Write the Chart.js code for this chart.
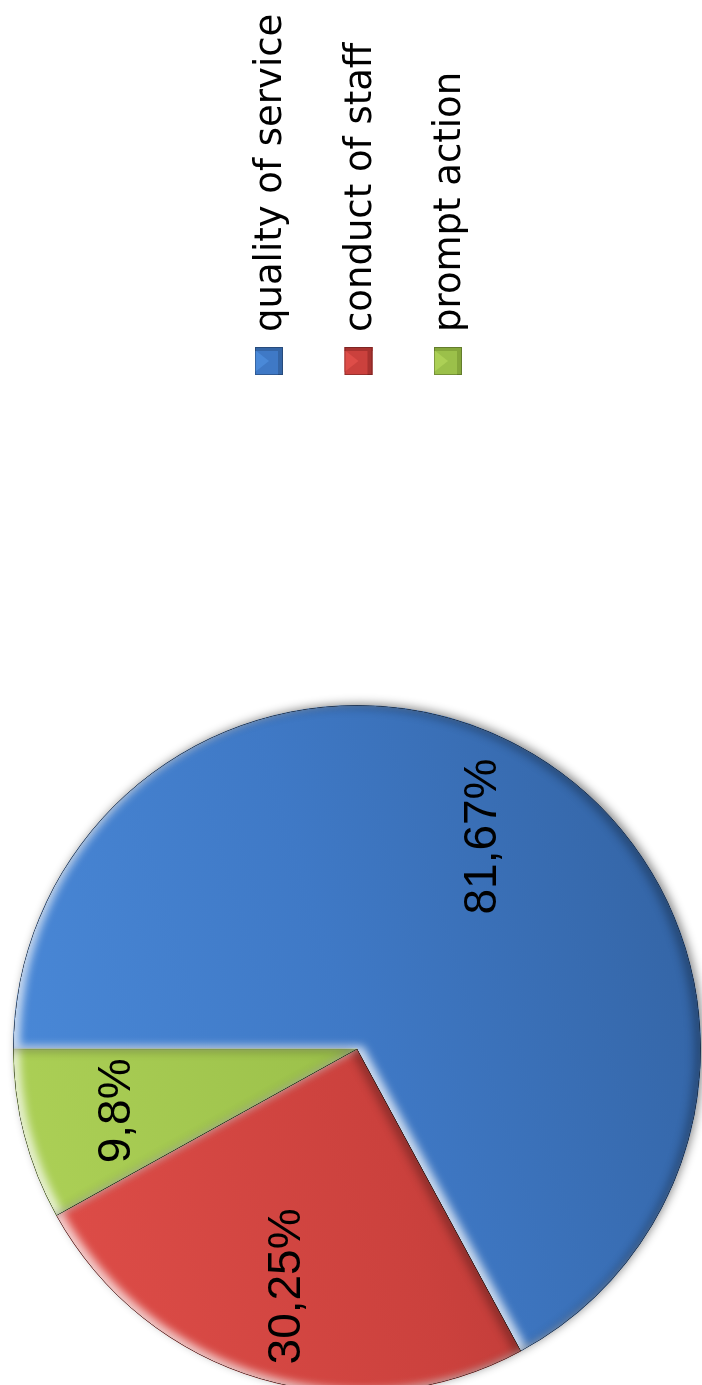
<!DOCTYPE html>
<html>
<head>
<meta charset="utf-8">
<title>Pastel</title>
<script src="https://cdn.jsdelivr.net/npm/chart.js@4.4.1/dist/chart.umd.min.js"></script>
<style>
    html, body { margin: 0; padding: 0; background: #fff; overflow: hidden; width: 702px; height: 1385px; }
    /* la grafica se dibuja acostada y se gira 90 grados */
    #contenedor { position: absolute; left: 0; top: 0; width: 1400px; height: 702px; transform-origin: 0 0; transform: translateY(1400px) rotate(-90deg); }
    canvas { display: block; }
</style>
</head>
<body>
<div id="contenedor"><canvas id="graficapastel" width="1400" height="702"></canvas></div>
<script>
// Datos
const etiquetas = ['quality of service', 'conduct of staff', 'prompt action'];
const valores = [81.67, 30.25, 9.8];

// Colores (claro, base, oscuro) por rebanada
const coloresClaros = ['#4a89d8', '#de4d48', '#acd056'];
const coloresBase = ['#3f79c6', '#cb413d', '#9bc04a'];
const coloresOscuros = ['#3465a6', '#a8322f', '#85a73b'];

function textoPorcentaje(v) {
    return String(v).replace('.', ',') + '%'; // coma decimal
}

function degradado(context) {
    const chart = context.chart;
    const area = chart.chartArea;
    const i = context.dataIndex;
    if (!area) return coloresBase[i];
    const cx = (area.left + area.right) / 2;
    const cy = (area.top + area.bottom) / 2;
    const r = Math.min(area.width, area.height) / 2;
    const g = chart.ctx.createLinearGradient(cx - r * 0.3, cy - r, cx + r * 0.3, cy + r);
    g.addColorStop(0, coloresClaros[i]);
    g.addColorStop(0.5, coloresBase[i]);
    g.addColorStop(1, coloresOscuros[i]);
    return g;
}

// Sombra exterior del pastel
const sombra = {
    id: 'sombra',
    beforeDatasetsDraw(chart) {
        const arc = chart.getDatasetMeta(0).data[0];
        if (!arc) return;
        const p = arc.getProps(['x', 'y', 'outerRadius'], true);
        const ctx = chart.ctx;
        ctx.save();
        ctx.shadowColor = 'rgba(0,0,0,0.45)';
        ctx.shadowBlur = 10;
        ctx.shadowOffsetX = 2;
        ctx.shadowOffsetY = 3;
        ctx.fillStyle = '#fff';
        ctx.beginPath();
        ctx.arc(p.x, p.y, p.outerRadius, 0, Math.PI * 2);
        ctx.fill();
        ctx.restore();
    }
};

// Efecto de bisel dentro de cada rebanada
const bisel = {
    id: 'bisel',
    afterDatasetsDraw(chart) {
        const ctx = chart.ctx;
        chart.getDatasetMeta(0).data.forEach((arc) => {
            const p = arc.getProps(['x', 'y', 'startAngle', 'endAngle', 'outerRadius'], true);
            const trazo = () => {
                ctx.moveTo(p.x, p.y);
                ctx.arc(p.x, p.y, p.outerRadius, p.startAngle, p.endAngle);
                ctx.closePath();
            };
            const capas = [
                { color: 'rgba(255,255,255,0.75)', dx: 3, dy: 6, blur: 9 },
                { color: 'rgba(0,0,0,0.3)', dx: -2, dy: -6, blur: 10 }
            ];
            ctx.save();
            ctx.beginPath();
            trazo();
            ctx.clip();
            capas.forEach((c) => {
                ctx.beginPath();
                ctx.rect(-3000, -3000, 8000, 8000);
                trazo();
                ctx.fillStyle = '#000';
                ctx.shadowColor = c.color;
                ctx.shadowBlur = c.blur;
                ctx.shadowOffsetX = c.dx;
                ctx.shadowOffsetY = c.dy;
                ctx.fill('evenodd');
            });
            ctx.restore();
        });
    }
};

// Porcentajes sobre las rebanadas
const etiquetasPastel = {
    id: 'etiquetasPastel',
    afterDatasetsDraw(chart) {
        const ctx = chart.ctx;
        const datos = chart.data.datasets[0].data;
        ctx.save();
        ctx.font = '46px "Liberation Sans", Arial, sans-serif';
        ctx.fillStyle = '#000';
        ctx.textAlign = 'center';
        ctx.textBaseline = 'middle';
        chart.getDatasetMeta(0).data.forEach((arc, i) => {
            const p = arc.getProps(['x', 'y', 'startAngle', 'endAngle', 'outerRadius'], true);
            const medio = (p.startAngle + p.endAngle) / 2;
            const r = p.outerRadius * 0.72;
            ctx.fillText(textoPorcentaje(datos[i]), p.x + Math.cos(medio) * r, p.y + Math.sin(medio) * r);
        });
        ctx.restore();
    }
};

// Leyenda con cuadritos biselados
const leyenda = {
    id: 'leyenda',
    afterDraw(chart) {
        const ctx = chart.ctx;
        const lado = 28;
        const x0 = 1025;
        ctx.save();
        chart.data.labels.forEach((texto, i) => {
            const cy = 269 + i * 89.5;
            const y0 = cy - lado / 2;
            ctx.fillStyle = coloresBase[i];
            ctx.fillRect(x0, y0, lado, lado);
            // cara clara
            ctx.fillStyle = coloresClaros[i];
            ctx.beginPath();
            ctx.moveTo(x0 + 3, y0);
            ctx.lineTo(x0 + lado - 3, y0);
            ctx.lineTo(x0 + lado / 2, y0 + lado / 2);
            ctx.closePath();
            ctx.fill();
            // cara oscura
            ctx.fillStyle = coloresOscuros[i];
            ctx.fillRect(x0, y0 + lado - 5, lado, 5);
            ctx.fillRect(x0 + lado - 4, y0, 4, lado);
            ctx.strokeStyle = 'rgba(0,0,0,0.25)';
            ctx.lineWidth = 1;
            ctx.strokeRect(x0 + 0.5, y0 + 0.5, lado - 1, lado - 1);
            ctx.fillStyle = '#000';
            ctx.font = '37px "DejaVu Sans", sans-serif';
            ctx.textAlign = 'left';
            ctx.textBaseline = 'alphabetic';
            ctx.fillText(texto, x0 + lado + 15, cy + 12);
        });
        ctx.restore();
    }
};

function crearGrafica() {
    const ctx = document.getElementById('graficapastel').getContext('2d');
    new Chart(ctx, {
        type: 'pie',
        data: {
            labels: etiquetas,
            datasets: [{
                data: valores,
                backgroundColor: degradado,
                borderColor: coloresOscuros,
                borderWidth: 1
            }]
        },
        options: {
            responsive: false,
            animation: false,
            layout: {
                padding: { left: 7, right: 705, top: 13, bottom: 1 }
            },
            plugins: {
                legend: { display: false },
                tooltip: { enabled: false }
            }
        },
        plugins: [sombra, bisel, etiquetasPastel, leyenda]
    });
}

crearGrafica();
</script>
</body>
</html>
